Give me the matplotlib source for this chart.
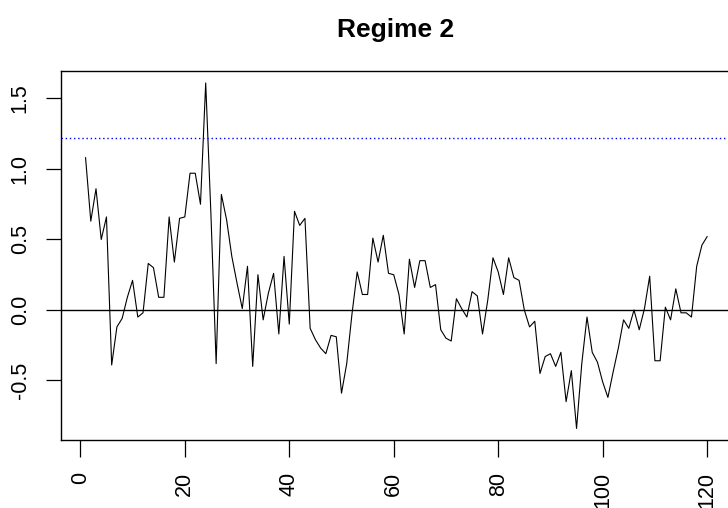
import matplotlib
matplotlib.use("Agg")
import matplotlib.pyplot as plt
import numpy as np

plt.rcParams['font.family'] = ['Liberation Sans', 'DejaVu Sans']

title = "Regime 2"
t = list(range(1, 121))
values = [
    1.08, 0.63, 0.86, 0.50, 0.66, -0.39, -0.12, -0.06, 0.09, 0.21,
    -0.05, -0.02, 0.33, 0.30, 0.09, 0.09, 0.66, 0.34, 0.65, 0.66,
    0.97, 0.97, 0.75, 1.61, 0.68, -0.38, 0.82, 0.64, 0.38, 0.19,
    0.01, 0.31, -0.40, 0.25, -0.07, 0.12, 0.26, -0.17, 0.38, -0.10,
    0.70, 0.60, 0.65, -0.13, -0.21, -0.27, -0.31, -0.18, -0.19, -0.59,
    -0.38, -0.03, 0.27, 0.11, 0.11, 0.51, 0.34, 0.53, 0.26, 0.25,
    0.11, -0.17, 0.36, 0.16, 0.35, 0.35, 0.16, 0.18, -0.14, -0.20,
    -0.22, 0.08, 0.01, -0.05, 0.13, 0.10, -0.17, 0.07, 0.37, 0.27,
    0.11, 0.37, 0.23, 0.21, 0.00, -0.12, -0.08, -0.45, -0.33, -0.31,
    -0.40, -0.30, -0.65, -0.43, -0.84, -0.38, -0.05, -0.30, -0.37, -0.51,
    -0.62, -0.44, -0.27, -0.07, -0.13, 0.00, -0.14, 0.01, 0.24, -0.36,
    -0.36, 0.02, -0.07, 0.15, -0.02, -0.02, -0.05, 0.31, 0.46, 0.52,
]
threshold = 1.22
baseline = 0.0
xticks = [0, 20, 40, 60, 80, 100, 120]
yticks = [-0.5, 0.0, 0.5, 1.0, 1.5]

W, H = 728, 508
fig = plt.figure(figsize=(W / 100, H / 100), dpi=100)
left, right, top, bottom = 60.7, 732.0, 71.0, 440.0
ax = fig.add_axes([left / W, (H - bottom) / H, (right - left) / W, (bottom - top) / H])

ax.plot(t, values, color='black', lw=0.8)
ax.axhline(baseline, color='black', lw=1.0)
ax.axhline(threshold, color='blue', lw=1.0, linestyle=(0, (1, 2)))

ax.set_xlim(-3.76, 124.76)
ax.set_ylim(-0.922, 1.695)
ax.set_xticks(xticks)
ax.set_yticks(yticks)
ax.set_xticklabels([str(v) for v in xticks], rotation=90)
ax.set_yticklabels([f"{v:.1f}" for v in yticks], rotation=90, va='center')
ax.tick_params(axis='x', length=12.2, width=0.9, pad=10.5, labelsize=15.5)
ax.tick_params(axis='y', length=10.6, width=0.9, pad=11, labelsize=15.5)
for s in ax.spines.values():
    s.set_linewidth(1.0)
    s.set_color('black')

fig.text(396 / W, 1 - 36.7 / H, title, ha='center', va='baseline',
         fontsize=19, fontweight='bold')

fig.savefig("out.png", dpi=100)
